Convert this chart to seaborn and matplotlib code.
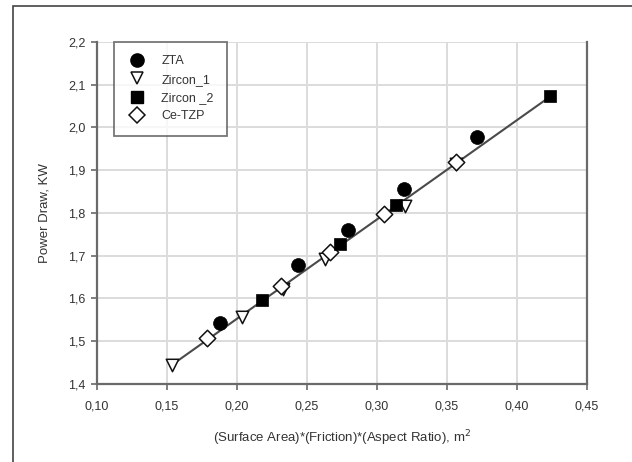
import matplotlib
matplotlib.use("Agg")
import matplotlib.pyplot as plt
import matplotlib.patches as mpatches
from matplotlib.lines import Line2D
from matplotlib.ticker import FuncFormatter, MultipleLocator
import seaborn as sns
import pandas as pd

# ---- data ----
zta_x = [0.188, 0.244, 0.2795, 0.3197, 0.372]
zta_y = [1.542, 1.677, 1.759, 1.855, 1.978]

zircon1_x = [0.154, 0.2037, 0.233, 0.2633, 0.320, 0.357]
zircon1_y = [1.444, 1.556, 1.622, 1.692, 1.816, 1.915]

zircon2_x = [0.2179, 0.2735, 0.3138, 0.4239]
zircon2_y = [1.597, 1.7275, 1.819, 2.072]

cetzp_x = [0.1788, 0.2316, 0.2664, 0.305, 0.3564]
cetzp_y = [1.507, 1.629, 1.709, 1.797, 1.919]

trend_x = [0.153, 0.424]
trend_y = [1.443, 2.072]

series_names = ["ZTA", "Zircon_1", "Zircon _2", "Ce-TZP"]
x_ticks = [0.10, 0.15, 0.20, 0.25, 0.30, 0.35, 0.40, 0.45]
y_ticks = [1.4, 1.5, 1.6, 1.7, 1.8, 1.9, 2.0, 2.1, 2.2]

sns.set_style("white")
plt.rcParams["font.family"] = ["Liberation Sans", "DejaVu Sans"]

fig = plt.figure(figsize=(6.32, 4.62), dpi=100)
ax = fig.add_axes([0.153, 0.1688, 0.9283 - 0.153, 0.9097 - 0.1688])

ax.set_xlim(x_ticks[0], x_ticks[-1])
ax.set_ylim(y_ticks[0], y_ticks[-1])
ax.xaxis.set_major_locator(MultipleLocator(0.05))
ax.yaxis.set_major_locator(MultipleLocator(0.1))
ax.grid(True, color="#dcdcdc", linewidth=1.4)
ax.set_axisbelow(True)

sns.lineplot(x=trend_x, y=trend_y, ax=ax, color="#4a4a4a", linewidth=1.5, zorder=2)

ec = "#111111"
sns.scatterplot(x=zircon1_x, y=zircon1_y, ax=ax, marker="v", s=80,
                facecolor="white", edgecolor=ec, linewidth=1.1, zorder=3)
sns.scatterplot(x=cetzp_x, y=cetzp_y, ax=ax, marker="D", s=70,
                facecolor="white", edgecolor=ec, linewidth=1.1, zorder=4)
sns.scatterplot(x=zircon2_x, y=zircon2_y, ax=ax, marker="s", s=80,
                color="black", edgecolor="black", linewidth=0.5, zorder=5)
sns.scatterplot(x=zta_x, y=zta_y, ax=ax, marker="o", s=100,
                color="black", edgecolor="black", linewidth=0.5, zorder=6)

fmt_x = FuncFormatter(lambda v, p: f"{v:.2f}".replace(".", ","))
fmt_y = FuncFormatter(lambda v, p: f"{v:.1f}".replace(".", ","))
ax.xaxis.set_major_formatter(fmt_x)
ax.yaxis.set_major_formatter(fmt_y)

for side in ["left", "right", "bottom"]:
    ax.spines[side].set_visible(True)
    ax.spines[side].set_color("#6a6a6a")
    ax.spines[side].set_linewidth(1.6)
ax.spines["top"].set_visible(False)

ax.tick_params(axis="both", direction="out", length=4, width=1.2, color="#6a6a6a",
               labelsize=9, labelcolor="#333333", pad=4)
ax.tick_params(axis="x", pad=8)
ax.tick_params(left=True, bottom=True)

ax.set_xlabel("(Surface Area)*(Friction)*(Aspect Ratio), m$^2$", fontsize=9.5,
              color="#333333", labelpad=11)
ax.set_ylabel("Power Draw, KW", fontsize=9.5, color="#333333", labelpad=13)

handles = [
    Line2D([], [], linestyle="none", marker="o", markersize=9.5, color="black"),
    Line2D([], [], linestyle="none", marker="v", markersize=9,
           markerfacecolor="white", markeredgecolor=ec, markeredgewidth=1.1),
    Line2D([], [], linestyle="none", marker="s", markersize=8.5, color="black"),
    Line2D([], [], linestyle="none", marker="D", markersize=8,
           markerfacecolor="white", markeredgecolor=ec, markeredgewidth=1.1),
]
leg = ax.legend(handles, series_names, loc="upper left",
                bbox_to_anchor=(17 / 490, 1.0), borderaxespad=0,
                fontsize=9, frameon=True, fancybox=False, handlelength=1.5,
                handletextpad=1.2, labelspacing=0.5, borderpad=1.1)
leg.get_frame().set_edgecolor("#555555")
leg.get_frame().set_linewidth(1.3)
for t in leg.get_texts():
    t.set_color("#333333")

# outer frame of the figure
frame = mpatches.Rectangle((13 / 632, -0.5), 2.0, 0.5 + (1 - 6 / 462),
                           transform=fig.transFigure, fill=False,
                           edgecolor="#444444", linewidth=1.2, clip_on=False)
fig.patches.append(frame)

fig.savefig("out.png", dpi=100)
